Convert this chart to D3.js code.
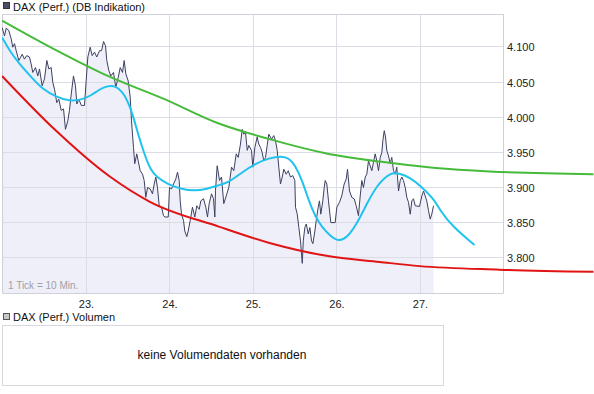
<!DOCTYPE html>
<html>
<head>
<meta charset="utf-8">
<script src="https://cdn.jsdelivr.net/npm/d3@7"></script>
<style>
body { margin: 0; background: #fff; }
svg { display: block; font-family: "Liberation Sans", Arial, sans-serif; }
</style>
</head>
<body>
<svg id="chart" width="594" height="394"></svg>
<script>
// DAX (Perf.) 10-min ticks, x = day of month (fractional)
var priceDays = [22.002,22.030,22.050,22.081,22.110,22.129,22.150,22.170,22.201,22.242,22.269,22.297,22.329,22.349,22.369,22.401,22.429,22.449,22.481,22.509,
	22.537,22.561,22.589,22.608,22.629,22.656,22.680,22.709,22.737,22.760,22.788,22.808,22.829,22.856,22.880,22.896,22.920,22.950,22.988,23.008,
	23.028,23.056,23.080,23.108,23.135,23.168,23.192,23.216,23.240,23.255,23.279,23.303,23.335,23.363,23.392,23.416,23.443,23.463,23.483,23.511,
	23.535,23.551,23.575,23.590,23.614,23.631,23.655,23.683,23.703,23.722,23.743,23.775,23.802,23.823,23.842,23.862,23.883,23.910,23.934,23.950,
	23.991,24.006,24.030,24.054,24.081,24.102,24.122,24.134,24.150,24.174,24.189,24.213,24.230,24.254,24.281,24.309,24.333,24.362,24.381,24.413,
	24.441,24.461,24.481,24.509,24.533,24.549,24.557,24.577,24.605,24.629,24.656,24.685,24.716,24.749,24.776,24.805,24.829,24.856,24.877,24.896,
	24.916,24.937,24.956,24.988,25.004,25.028,25.056,25.075,25.096,25.116,25.135,25.156,25.176,25.195,25.228,25.255,25.275,25.296,25.315,25.335,
	25.356,25.375,25.404,25.428,25.455,25.483,25.507,25.515,25.536,25.555,25.575,25.596,25.608,25.627,25.644,25.668,25.687,25.707,25.723,25.747,
	25.763,25.787,25.802,25.818,25.842,25.859,25.871,25.890,25.910,25.938,25.990,26.010,26.042,26.069,26.098,26.122,26.138,26.162,26.189,26.218,
	26.242,26.269,26.290,26.309,26.329,26.350,26.369,26.389,26.409,26.429,26.449,26.469,26.489,26.509,26.530,26.549,26.561,26.578,26.593,26.608,
	26.629,26.649,26.668,26.689,26.709,26.728,26.749,26.769,26.788,26.808,26.829,26.848,26.868,26.889,26.908,26.928,26.949,27.000,27.028,27.048,
	27.068,27.087,27.108,27.128,27.147,27.168];
var priceValues = [4127,4115,4126,4123,4111,4099,4104,4094,4080,4089,4082,4087,4085,4075,4063,4070,4058,4068,4044,4054,
	4080,4068,4070,4049,4039,4020,4025,4009,4011,3982,3994,4009,4032,4058,4044,4018,4025,4016,4016,4051,
	4085,4099,4087,4092,4085,4094,4094,4107,4101,4080,4066,4058,4063,4042,4056,4070,4063,4080,4061,4051,
	4028,3994,3956,3933,3947,3937,3923,3918,3909,3885,3899,3897,3890,3904,3914,3899,3873,3871,3859,3857,
	3857,3899,3897,3904,3911,3921,3909,3880,3861,3852,3837,3829,3837,3852,3871,3857,3873,3868,3880,3883,
	3871,3857,3876,3890,3883,3857,3895,3930,3909,3914,3876,3887,3899,3928,3923,3947,3942,3961,3982,3975,
	3978,3952,3959,3952,3928,3956,3971,3961,3956,3949,3937,3942,3959,3975,3968,3973,3966,3952,3928,3904,
	3914,3925,3918,3923,3914,3916,3909,3871,3861,3842,3823,3791,3823,3842,3847,3833,3842,3823,3819,3837,
	3852,3871,3880,3861,3880,3899,3909,3904,3880,3849,3849,3871,3878,3887,3904,3911,3925,3894,3885,3883,
	3873,3859,3887,3909,3899,3914,3918,3937,3930,3923,3935,3947,3937,3923,3942,3949,3966,3980,3971,3952,
	3944,3933,3942,3923,3918,3928,3894,3909,3914,3909,3899,3885,3878,3861,3880,3883,3873,3872,3887,3894,
	3887,3880,3866,3854,3861,3873];

// smoothed trend (blue)
var trendDays = [22.00,22.09,22.21,22.369,22.489,22.649,22.808,22.949,23.068,23.168,23.263,23.363,23.443,23.503,23.563,23.623,23.703,23.782,23.862,23.982,
	24.141,24.302,24.461,24.581,24.716,24.877,25.036,25.195,25.356,25.435,25.515,25.595,25.674,25.754,25.835,25.931,26.030,26.129,26.249,26.369,
	26.489,26.649,26.769,26.889,27.008,27.192,27.240,27.399,27.659];
var trendValues = [4113,4094,4075,4054,4039,4028,4022,4024,4030,4039,4044,4044,4035,4023,4004,3978,3947,3923,3913,3904,
	3897,3894,3897,3902,3906,3921,3933,3941,3944,3941,3930,3909,3880,3857,3842,3830,3822,3827,3847,3876,
	3902,3921,3919,3913,3902,3880,3867,3843,3817];

// upper (green) and lower (red) bands
var upperDays = [22.0,22.629,23.287,23.946,24.581,25.204,25.874,26.521,27.192,27.838,29.084];
var upperValues = [4137,4096,4057,4025,3991,3968,3948,3936,3927,3922,3918];
var lowerDays = [22.0,22.629,23.287,23.766,24.605,25.204,25.922,26.521,27.0,27.958,29.084];
var lowerValues = [4058,3982,3915,3879,3843,3820,3801,3793,3787,3782,3779];

var yTicks = [3800,3850,3900,3950,4000,4050,4100];
var dayTicks = [23,24,25,26,27];

var svg = d3.select("#chart");
var plotL = 2, plotR = 503, plotT = 14, plotB = 293;

var x = d3.scaleLinear().domain([22, 28]).range([plotL, plotR]);
var y = d3.scaleLinear().domain([3748.7, 4146.3]).range([plotB, plotT]);
var de = d3.formatLocale({decimal: ",", thousands: ".", grouping: [3], currency: ["", "€"]});
var fmt = de.format(",d");

var defs = svg.append("defs");
defs.append("clipPath").attr("id", "plot")
	.append("rect").attr("x", plotL).attr("y", plotT).attr("width", plotR - plotL).attr("height", plotB - plotT);
defs.append("clipPath").attr("id", "wide")
	.append("rect").attr("x", plotL).attr("y", plotT).attr("width", 594 - plotL).attr("height", plotB - plotT);

// legend top
svg.append("rect").attr("x", 3.5).attr("y", 2.5).attr("width", 6).attr("height", 6)
	.attr("fill", "#4a4f66").attr("stroke", "#333");
svg.append("text").attr("x", 13).attr("y", 10.5).attr("font-size", 11).attr("fill", "#111")
	.text("DAX (Perf.) (DB Indikation)");

var price = priceDays.map(function(d, i){ return [d, priceValues[i]]; });

// area under price
svg.append("path")
	.datum(price)
	.attr("clip-path", "url(#plot)")
	.attr("fill", "#efeff9")
	.attr("d", d3.area().x(function(d){ return x(d[0]); }).y0(plotB).y1(function(d){ return y(d[1]); }));

// grid
svg.append("g").selectAll("line").data(yTicks).enter().append("line")
	.attr("x1", plotL).attr("x2", plotR)
	.attr("y1", function(d){ return Math.round(y(d)) + 0.5; })
	.attr("y2", function(d){ return Math.round(y(d)) + 0.5; })
	.attr("stroke", "#dcdce4");
svg.append("g").selectAll("line").data(dayTicks).enter().append("line")
	.attr("x1", function(d){ return Math.round(x(d)) + 0.5; })
	.attr("x2", function(d){ return Math.round(x(d)) + 0.5; })
	.attr("y1", plotT).attr("y2", plotB)
	.attr("stroke", "#dcdce4");

// frame
svg.append("path")
	.attr("d", "M" + (plotR + 0.5) + "," + plotT + "V" + (plotB + 0.5) + "H" + (plotL + 0.5) + "V" + (plotT + 0.5) + "H" + (plotR + 0.5))
	.attr("fill", "none").attr("stroke", "#d0d0d8");

// y labels
svg.append("g").selectAll("text").data(yTicks).enter().append("text")
	.attr("x", 507).attr("y", function(d){ return y(d) + 5; })
	.attr("font-size", 11).attr("fill", "#222")
	.text(function(d){ return fmt(d); });

// x labels
svg.append("g").selectAll("text").data(dayTicks).enter().append("text")
	.attr("x", function(d){ return x(d) + 1; }).attr("y", 308)
	.attr("text-anchor", "middle").attr("font-size", 11).attr("fill", "#222")
	.text(function(d){ return d + "."; });

svg.append("text").attr("x", 8).attr("y", 289).attr("font-size", 10).attr("fill", "#a0a0a8")
	.text("1 Tick = 10 Min.");

var curve = function(days, vals){
	return d3.line().curve(d3.curveMonotoneX)
		.x(function(d){ return x(d); })
		.y(function(d, i){ return y(vals[i]); })(days);
};

// price line
svg.append("path")
	.datum(price)
	.attr("clip-path", "url(#plot)")
	.attr("fill", "none").attr("stroke", "#3c4160").attr("stroke-width", 1)
	.attr("d", d3.line().x(function(d){ return x(d[0]); }).y(function(d){ return y(d[1]); }));

svg.append("path").attr("clip-path", "url(#wide)")
	.attr("fill", "none").attr("stroke", "#46bb3a").attr("stroke-width", 2)
	.attr("d", curve(upperDays, upperValues));
svg.append("path").attr("clip-path", "url(#wide)")
	.attr("fill", "none").attr("stroke", "#e01414").attr("stroke-width", 2)
	.attr("d", curve(lowerDays, lowerValues));
svg.append("path").attr("clip-path", "url(#wide)")
	.attr("fill", "none").attr("stroke", "#1fc3ee").attr("stroke-width", 2)
	.attr("d", d3.line().curve(d3.curveBasis)
		.x(function(d){ return x(d); })
		.y(function(d, i){ return y(trendValues[i]); })(trendDays));

// volume panel
svg.append("rect").attr("x", 3.5).attr("y", 313.5).attr("width", 6).attr("height", 6)
	.attr("fill", "#c8c8c8").attr("stroke", "#555");
svg.append("text").attr("x", 13).attr("y", 321).attr("font-size", 11).attr("fill", "#111")
	.text("DAX (Perf.) Volumen");
svg.append("rect").attr("x", 2.5).attr("y", 325.5).attr("width", 441).attr("height", 60)
	.attr("fill", "#fff").attr("stroke", "#d8d8dc");
svg.append("text").attr("x", 222).attr("y", 359).attr("text-anchor", "middle")
	.attr("font-size", 12).attr("fill", "#111")
	.text("keine Volumendaten vorhanden");
</script>
</body>
</html>
